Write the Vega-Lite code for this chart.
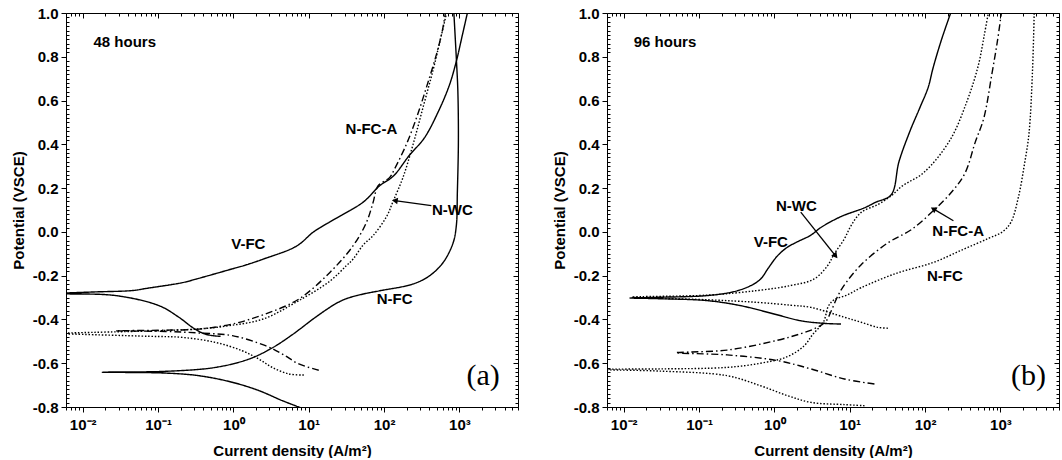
{
  "$schema": "https://vega.github.io/schema/vega-lite/v6.json",
  "background": "white",
  "padding": {"left": 11, "top": 6, "right": 0, "bottom": 0},
  "spacing": 89,
  "bounds": "flush",
  "config": {
    "view": {"stroke": null},
    "axis": {"grid": false, "domainColor": "black", "tickColor": "black", "labelColor": "black", "titleColor": "black", "labelFont": "Liberation Sans", "titleFont": "Liberation Sans", "labelFontWeight": "bold", "titleFontWeight": "bold", "labelFontSize": 15, "titleFontSize": 15, "domainWidth": 1, "tickWidth": 1, "labelOverlap": false, "labelFlush": false},
    "text": {"font": "Liberation Sans", "fontWeight": "bold", "fontSize": 15, "color": "black"}
  },
  "resolve": {"scale": {"strokeDash": "independent"}},
  "datasets": {
    "a": [
      {"s":"V-FC","k":1,"i":0.676,"E":-0.477},{"s":"V-FC","k":2,"i":0.525,"E":-0.474},{"s":"V-FC","k":3,"i":0.387,"E":-0.462},{"s":"V-FC","k":4,"i":0.285,"E":-0.436},{"s":"V-FC","k":5,"i":0.189,"E":-0.39},{"s":"V-FC","k":6,"i":0.103,"E":-0.337},{"s":"V-FC","k":7,"i":0.0274,"E":-0.291},{"s":"V-FC","k":8,"i":0.006,"E":-0.283},{"s":"V-FC","k":9,"i":0.004,"E":-0.281},{"s":"V-FC","k":10,"i":0.006,"E":-0.279},{"s":"V-FC","k":11,"i":0.0154,"E":-0.274},{"s":"V-FC","k":12,"i":0.0456,"E":-0.268},{"s":"V-FC","k":13,"i":0.0706,"E":-0.258},{"s":"V-FC","k":14,"i":0.21,"E":-0.232},{"s":"V-FC","k":15,"i":0.325,"E":-0.215},{"s":"V-FC","k":16,"i":0.966,"E":-0.169},{"s":"V-FC","k":17,"i":1.5,"E":-0.15},{"s":"V-FC","k":18,"i":2.51,"E":-0.124},{"s":"V-FC","k":19,"i":6.89,"E":-0.065},{"s":"V-FC","k":20,"i":11.6,"E":0.0},{"s":"V-FC","k":21,"i":18.9,"E":0.045},{"s":"V-FC","k":22,"i":53.3,"E":0.137},{"s":"V-FC","k":23,"i":86.9,"E":0.21},{"s":"V-FC","k":24,"i":133,"E":0.255},{"s":"V-FC","k":25,"i":217,"E":0.35},{"s":"V-FC","k":26,"i":344,"E":0.43},{"s":"V-FC","k":27,"i":526,"E":0.55},{"s":"V-FC","k":28,"i":736,"E":0.67},{"s":"V-FC","k":29,"i":912,"E":0.78},{"s":"V-FC","k":30,"i":1097,"E":0.9},{"s":"V-FC","k":31,"i":1277,"E":1.0},
      {"s":"N-FC","k":1,"i":8.2,"E":-0.806},{"s":"N-FC","k":2,"i":4.46,"E":-0.771},{"s":"N-FC","k":3,"i":2.18,"E":-0.725},{"s":"N-FC","k":4,"i":0.966,"E":-0.687},{"s":"N-FC","k":5,"i":0.348,"E":-0.657},{"s":"N-FC","k":6,"i":0.126,"E":-0.645},{"s":"N-FC","k":7,"i":0.0182,"E":-0.641},{"s":"N-FC","k":8,"i":0.126,"E":-0.637},{"s":"N-FC","k":9,"i":0.581,"E":-0.619},{"s":"N-FC","k":10,"i":1.61,"E":-0.581},{"s":"N-FC","k":11,"i":3.28,"E":-0.53},{"s":"N-FC","k":12,"i":6.04,"E":-0.47},{"s":"N-FC","k":13,"i":12.3,"E":-0.39},{"s":"N-FC","k":14,"i":22.6,"E":-0.329},{"s":"N-FC","k":15,"i":31.7,"E":-0.305},{"s":"N-FC","k":16,"i":52.8,"E":-0.284},{"s":"N-FC","k":17,"i":87.7,"E":-0.269},{"s":"N-FC","k":18,"i":243,"E":-0.238},{"s":"N-FC","k":19,"i":404,"E":-0.2},{"s":"N-FC","k":20,"i":608,"E":-0.14},{"s":"N-FC","k":21,"i":826,"E":-0.05},{"s":"N-FC","k":22,"i":912,"E":0.03},{"s":"N-FC","k":23,"i":940,"E":0.18},{"s":"N-FC","k":24,"i":970,"E":0.41},{"s":"N-FC","k":25,"i":955,"E":0.64},{"s":"N-FC","k":26,"i":912,"E":0.79},{"s":"N-FC","k":27,"i":845,"E":1.0},
      {"s":"N-WC","k":1,"i":8.61,"E":-0.654},{"s":"N-WC","k":2,"i":5.45,"E":-0.649},{"s":"N-WC","k":3,"i":3.28,"E":-0.619},{"s":"N-WC","k":4,"i":2.18,"E":-0.581},{"s":"N-WC","k":5,"i":1.31,"E":-0.543},{"s":"N-WC","k":6,"i":0.581,"E":-0.505},{"s":"N-WC","k":7,"i":0.21,"E":-0.482},{"s":"N-WC","k":8,"i":0.0757,"E":-0.477},{"s":"N-WC","k":9,"i":0.006,"E":-0.466},{"s":"N-WC","k":10,"i":0.004,"E":-0.464},{"s":"N-WC","k":11,"i":0.006,"E":-0.462},{"s":"N-WC","k":12,"i":0.325,"E":-0.444},{"s":"N-WC","k":13,"i":0.891,"E":-0.428},{"s":"N-WC","k":14,"i":2.49,"E":-0.398},{"s":"N-WC","k":15,"i":6.89,"E":-0.32},{"s":"N-WC","k":16,"i":19.1,"E":-0.225},{"s":"N-WC","k":17,"i":31.7,"E":-0.154},{"s":"N-WC","k":18,"i":38.9,"E":-0.124},{"s":"N-WC","k":19,"i":52.8,"E":-0.06},{"s":"N-WC","k":20,"i":71.6,"E":-0.017},{"s":"N-WC","k":21,"i":108,"E":0.07},{"s":"N-WC","k":22,"i":132,"E":0.14},{"s":"N-WC","k":23,"i":179,"E":0.25},{"s":"N-WC","k":24,"i":243,"E":0.4},{"s":"N-WC","k":25,"i":330,"E":0.57},{"s":"N-WC","k":26,"i":448,"E":0.74},{"s":"N-WC","k":27,"i":560,"E":0.88},{"s":"N-WC","k":28,"i":676,"E":1.0},
      {"s":"N-FC-A","k":1,"i":13.6,"E":-0.632},{"s":"N-FC-A","k":2,"i":7.39,"E":-0.603},{"s":"N-FC-A","k":3,"i":4.46,"E":-0.558},{"s":"N-FC-A","k":4,"i":2.67,"E":-0.52},{"s":"N-FC-A","k":5,"i":0.966,"E":-0.474},{"s":"N-FC-A","k":6,"i":0.348,"E":-0.462},{"s":"N-FC-A","k":7,"i":0.126,"E":-0.455},{"s":"N-FC-A","k":8,"i":0.0274,"E":-0.452},{"s":"N-FC-A","k":9,"i":0.126,"E":-0.449},{"s":"N-FC-A","k":10,"i":0.348,"E":-0.444},{"s":"N-FC-A","k":11,"i":0.966,"E":-0.421},{"s":"N-FC-A","k":12,"i":2.67,"E":-0.375},{"s":"N-FC-A","k":13,"i":7.39,"E":-0.307},{"s":"N-FC-A","k":14,"i":19.1,"E":-0.185},{"s":"N-FC-A","k":15,"i":38.9,"E":-0.063},{"s":"N-FC-A","k":16,"i":58.5,"E":0.044},{"s":"N-FC-A","k":17,"i":71.6,"E":0.135},{"s":"N-FC-A","k":18,"i":83.5,"E":0.211},{"s":"N-FC-A","k":19,"i":119,"E":0.249},{"s":"N-FC-A","k":20,"i":139,"E":0.29},{"s":"N-FC-A","k":21,"i":198,"E":0.4},{"s":"N-FC-A","k":22,"i":269,"E":0.52},{"s":"N-FC-A","k":23,"i":365,"E":0.66},{"s":"N-FC-A","k":24,"i":495,"E":0.81},{"s":"N-FC-A","k":25,"i":595,"E":0.92},{"s":"N-FC-A","k":26,"i":652,"E":1.0}
    ],
    "b": [
      {"s":"V-FC","k":1,"i":7.66,"E":-0.421},{"s":"V-FC","k":2,"i":4.6,"E":-0.418},{"s":"V-FC","k":3,"i":2.24,"E":-0.406},{"s":"V-FC","k":4,"i":0.991,"E":-0.375},{"s":"V-FC","k":5,"i":0.356,"E":-0.337},{"s":"V-FC","k":6,"i":0.128,"E":-0.314},{"s":"V-FC","k":7,"i":0.0275,"E":-0.305},{"s":"V-FC","k":8,"i":0.0121,"E":-0.302},{"s":"V-FC","k":9,"i":0.0275,"E":-0.299},{"s":"V-FC","k":10,"i":0.128,"E":-0.291},{"s":"V-FC","k":11,"i":0.29,"E":-0.273},{"s":"V-FC","k":12,"i":0.483,"E":-0.246},{"s":"V-FC","k":13,"i":0.658,"E":-0.215},{"s":"V-FC","k":14,"i":0.832,"E":-0.165},{"s":"V-FC","k":15,"i":1.096,"E":-0.11},{"s":"V-FC","k":16,"i":1.49,"E":-0.07},{"s":"V-FC","k":17,"i":2.03,"E":-0.045},{"s":"V-FC","k":18,"i":3.05,"E":-0.015},{"s":"V-FC","k":19,"i":4.14,"E":0.02},{"s":"V-FC","k":20,"i":7.66,"E":0.07},{"s":"V-FC","k":21,"i":15.7,"E":0.11},{"s":"V-FC","k":22,"i":22,"E":0.135},{"s":"V-FC","k":23,"i":35.6,"E":0.17},{"s":"V-FC","k":24,"i":45,"E":0.32},{"s":"V-FC","k":25,"i":63,"E":0.46},{"s":"V-FC","k":26,"i":86,"E":0.57},{"s":"V-FC","k":27,"i":110,"E":0.66},{"s":"V-FC","k":28,"i":128,"E":0.75},{"s":"V-FC","k":29,"i":166,"E":0.88},{"s":"V-FC","k":30,"i":219,"E":1.0},
      {"s":"N-WC","k":1,"i":32.1,"E":-0.44},{"s":"N-WC","k":2,"i":23.6,"E":-0.436},{"s":"N-WC","k":3,"i":14.2,"E":-0.413},{"s":"N-WC","k":4,"i":8.49,"E":-0.39},{"s":"N-WC","k":5,"i":3.05,"E":-0.345},{"s":"N-WC","k":6,"i":1.65,"E":-0.335},{"s":"N-WC","k":7,"i":0.593,"E":-0.322},{"s":"N-WC","k":8,"i":0.128,"E":-0.31},{"s":"N-WC","k":9,"i":0.0128,"E":-0.298},{"s":"N-WC","k":10,"i":0.128,"E":-0.289},{"s":"N-WC","k":11,"i":0.593,"E":-0.268},{"s":"N-WC","k":12,"i":1.65,"E":-0.245},{"s":"N-WC","k":13,"i":3.38,"E":-0.215},{"s":"N-WC","k":14,"i":5.09,"E":-0.154},{"s":"N-WC","k":15,"i":6.25,"E":-0.1},{"s":"N-WC","k":16,"i":8.49,"E":-0.032},{"s":"N-WC","k":17,"i":10.4,"E":0.028},{"s":"N-WC","k":18,"i":14.2,"E":0.089},{"s":"N-WC","k":19,"i":23.6,"E":0.125},{"s":"N-WC","k":20,"i":35.6,"E":0.165},{"s":"N-WC","k":21,"i":50,"E":0.21},{"s":"N-WC","k":22,"i":97,"E":0.272},{"s":"N-WC","k":23,"i":215,"E":0.42},{"s":"N-WC","k":24,"i":363,"E":0.6},{"s":"N-WC","k":25,"i":509,"E":0.76},{"s":"N-WC","k":26,"i":612,"E":0.9},{"s":"N-WC","k":27,"i":692,"E":1.0},
      {"s":"N-FC-A","k":1,"i":21.3,"E":-0.695},{"s":"N-FC-A","k":2,"i":8.49,"E":-0.672},{"s":"N-FC-A","k":3,"i":3.05,"E":-0.626},{"s":"N-FC-A","k":4,"i":1.096,"E":-0.588},{"s":"N-FC-A","k":5,"i":0.236,"E":-0.562},{"s":"N-FC-A","k":6,"i":0.0493,"E":-0.552},{"s":"N-FC-A","k":7,"i":0.236,"E":-0.54},{"s":"N-FC-A","k":8,"i":1.096,"E":-0.495},{"s":"N-FC-A","k":9,"i":2.24,"E":-0.465},{"s":"N-FC-A","k":10,"i":3.52,"E":-0.44},{"s":"N-FC-A","k":11,"i":4.79,"E":-0.41},{"s":"N-FC-A","k":12,"i":5.7,"E":-0.36},{"s":"N-FC-A","k":13,"i":6.8,"E":-0.3},{"s":"N-FC-A","k":14,"i":8.2,"E":-0.25},{"s":"N-FC-A","k":15,"i":14.2,"E":-0.15},{"s":"N-FC-A","k":16,"i":32.1,"E":-0.05},{"s":"N-FC-A","k":17,"i":65.6,"E":0.01},{"s":"N-FC-A","k":18,"i":132,"E":0.1},{"s":"N-FC-A","k":19,"i":236,"E":0.19},{"s":"N-FC-A","k":20,"i":341,"E":0.27},{"s":"N-FC-A","k":21,"i":464,"E":0.41},{"s":"N-FC-A","k":22,"i":603,"E":0.52},{"s":"N-FC-A","k":23,"i":770,"E":0.72},{"s":"N-FC-A","k":24,"i":912,"E":0.87},{"s":"N-FC-A","k":25,"i":1031,"E":1.0},
      {"s":"N-FC","k":1,"i":15.7,"E":-0.794},{"s":"N-FC","k":2,"i":8.49,"E":-0.789},{"s":"N-FC","k":3,"i":3.05,"E":-0.779},{"s":"N-FC","k":4,"i":1.49,"E":-0.748},{"s":"N-FC","k":5,"i":0.656,"E":-0.703},{"s":"N-FC","k":6,"i":0.236,"E":-0.657},{"s":"N-FC","k":7,"i":0.0305,"E":-0.636},{"s":"N-FC","k":8,"i":0.006,"E":-0.63},{"s":"N-FC","k":9,"i":0.004,"E":-0.628},{"s":"N-FC","k":10,"i":0.006,"E":-0.627},{"s":"N-FC","k":11,"i":0.0305,"E":-0.626},{"s":"N-FC","k":12,"i":0.236,"E":-0.619},{"s":"N-FC","k":13,"i":0.656,"E":-0.6},{"s":"N-FC","k":14,"i":1.49,"E":-0.57},{"s":"N-FC","k":15,"i":2.49,"E":-0.52},{"s":"N-FC","k":16,"i":3.21,"E":-0.47},{"s":"N-FC","k":17,"i":4.5,"E":-0.41},{"s":"N-FC","k":18,"i":5.2,"E":-0.34},{"s":"N-FC","k":19,"i":6.2,"E":-0.31},{"s":"N-FC","k":20,"i":9,"E":-0.29},{"s":"N-FC","k":21,"i":14.2,"E":-0.255},{"s":"N-FC","k":22,"i":41,"E":-0.19},{"s":"N-FC","k":23,"i":128,"E":-0.14},{"s":"N-FC","k":24,"i":321,"E":-0.08},{"s":"N-FC","k":25,"i":692,"E":-0.03},{"s":"N-FC","k":26,"i":1064,"E":0.0},{"s":"N-FC","k":27,"i":1380,"E":0.044},{"s":"N-FC","k":28,"i":1738,"E":0.16},{"s":"N-FC","k":29,"i":2089,"E":0.31},{"s":"N-FC","k":30,"i":2399,"E":0.45},{"s":"N-FC","k":31,"i":2672,"E":0.74},{"s":"N-FC","k":32,"i":2812,"E":1.0}
    ],
    "labA": [{"t":"V-FC","i":1.58,"E":-0.055},{"t":"N-FC","i":138,"E":-0.307},{"t":"N-FC-A","i":68,"E":0.47},{"t":"N-WC","i":807,"E":0.1}],
    "labB": [{"t":"N-WC","i":1.96,"E":0.12},{"t":"V-FC","i":0.898,"E":-0.048},{"t":"N-FC-A","i":275,"E":0.005},{"t":"N-FC","i":183,"E":-0.2}],
    "hours": [{"p":"a","t":"48 hours","i":0.0139,"E":0.866},{"p":"b","t":"96 hours","i":0.0136,"E":0.866},{"p":"a","t":"(a)","i":2061,"E":-0.657},{"p":"b","t":"(b)","i":2361,"E":-0.657}],
    "arrows": [{"p":"a","n":"wc","i":425,"E":0.12,"i2":139,"E2":0.143},{"p":"b","n":"wc","i":2.24,"E":0.09,"i2":6.5,"E2":-0.11},{"p":"b","n":"fca","i":238,"E":0.051,"i2":129,"E2":0.105}]
  },
  "hconcat": [
    {
      "width": 452, "height": 394,
      "resolve": {"axis": {"x": "independent", "y": "independent"}},
      "layer": [
        {
          "data": {"name": "a"},
          "mark": {"type": "line", "clip": true, "color": "black", "strokeWidth": 1.4, "interpolate": "catmull-rom"},
          "encoding": {
            "x": {"field": "i", "type": "quantitative", "scale": {"type": "log", "domain": [0.006, 6000], "nice": false},
              "axis": {"orient": "bottom", "title": "Current density (A/m²)", "values": [0.01,0.1,1,10,100,1000],
                "labelExpr": "['10⁻²','10⁻¹','10⁰','10¹','10²','10³'][round(log(datum.value)/LN10)+2]",
                "tickSize": 5, "labelPadding": 5, "titlePadding": 11, "labelFontSize": 15, "labelFontWeight": "bold", "titleFontSize": 15}},
            "y": {"field": "E", "type": "quantitative", "scale": {"domain": [-0.8, 1.0], "nice": false, "zero": false},
              "axis": {"orient": "left", "title": "Potential (VSCE)", "values": [-0.8,-0.6,-0.4,-0.2,0,0.2,0.4,0.6,0.8,1],
                "labelExpr": "(datum.value < -0.001 ? '-' : '') + format(abs(datum.value), '.1f')",
                "tickSize": 5, "labelPadding": 3, "titlePadding": 6, "labelFontSize": 15, "labelFontWeight": "bold", "titleFontSize": 15}},
            "order": {"field": "k", "type": "quantitative"},
            "strokeDash": {"field": "s", "type": "nominal", "legend": null, "scale": {"domain": ["V-FC","N-FC","N-WC","N-FC-A"], "range": [[1,0],[1,0],[1.5,1.8],[7,3,1.5,3]]}}
          }
        },
        {
          "data": {"name": "labA"},
          "mark": {"type": "text", "align": "center", "baseline": "middle"},
          "encoding": {
            "x": {"field": "i", "type": "quantitative", "scale": {"type": "log", "domain": [0.006, 6000], "nice": false},
              "axis": {"orient": "top", "title": null, "labels": false, "values": [0.01,0.1,1,10,100,1000], "tickSize": -5}},
            "y": {"field": "E", "type": "quantitative", "scale": {"domain": [-0.8, 1.0], "nice": false, "zero": false},
              "axis": {"orient": "right", "title": null, "labels": false, "values": [-0.8,-0.6,-0.4,-0.2,0,0.2,0.4,0.6,0.8,1], "tickSize": -5}},
            "text": {"field": "t"}
          }
        },
        {
          "data": {"name": "hours"},
          "transform": [{"filter": "datum.p == 'a' && datum.t != '(a)'"}],
          "mark": {"type": "text", "align": "left", "baseline": "middle"},
          "encoding": {
            "x": {"field": "i", "type": "quantitative", "scale": {"type": "log", "domain": [0.006, 6000], "nice": false},
              "axis": {"orient": "bottom", "title": null, "labels": false, "domain": false, "tickSize": 3, "values": [0.006,0.007,0.008,0.009,0.02,0.03,0.04,0.05,0.06,0.07,0.08,0.09,0.2,0.3,0.4,0.5,0.6,0.7,0.8,0.9,2,3,4,5,6,7,8,9,20,30,40,50,60,70,80,90,200,300,400,500,600,700,800,900,2000,3000,4000,5000,6000]}},
            "y": {"field": "E", "type": "quantitative", "scale": {"domain": [-0.8, 1.0], "nice": false, "zero": false},
              "axis": {"orient": "left", "title": null, "labels": false, "domain": false, "tickSize": -3, "values": [-0.78,-0.76,-0.74,-0.72,-0.7,-0.68,-0.66,-0.64,-0.62,-0.58,-0.56,-0.54,-0.52,-0.5,-0.48,-0.46,-0.44,-0.42,-0.38,-0.36,-0.34,-0.32,-0.3,-0.28,-0.26,-0.24,-0.22,-0.18,-0.16,-0.14,-0.12,-0.1,-0.08,-0.06,-0.04,-0.02,0.02,0.04,0.06,0.08,0.1,0.12,0.14,0.16,0.18,0.22,0.24,0.26,0.28,0.3,0.32,0.34,0.36,0.38,0.42,0.44,0.46,0.48,0.5,0.52,0.54,0.56,0.58,0.62,0.64,0.66,0.68,0.7,0.72,0.74,0.76,0.78,0.82,0.84,0.86,0.88,0.9,0.92,0.94,0.96,0.98]}},
            "text": {"field": "t"}
          }
        },
        {
          "data": {"name": "hours"},
          "transform": [{"filter": "datum.t == '(a)'"}],
          "mark": {"type": "text", "align": "center", "baseline": "middle", "font": "Liberation Serif", "fontWeight": "normal", "fontSize": 30},
          "encoding": {
            "x": {"field": "i", "type": "quantitative", "scale": {"type": "log", "domain": [0.006, 6000], "nice": false},
              "axis": {"orient": "top", "title": null, "labels": false, "domain": false, "tickSize": -3, "values": [0.006,0.007,0.008,0.009,0.02,0.03,0.04,0.05,0.06,0.07,0.08,0.09,0.2,0.3,0.4,0.5,0.6,0.7,0.8,0.9,2,3,4,5,6,7,8,9,20,30,40,50,60,70,80,90,200,300,400,500,600,700,800,900,2000,3000,4000,5000,6000]}},
            "y": {"field": "E", "type": "quantitative", "scale": {"domain": [-0.8, 1.0], "nice": false, "zero": false},
              "axis": {"orient": "right", "title": null, "labels": false, "domain": false, "tickSize": -3, "values": [-0.78,-0.76,-0.74,-0.72,-0.7,-0.68,-0.66,-0.64,-0.62,-0.58,-0.56,-0.54,-0.52,-0.5,-0.48,-0.46,-0.44,-0.42,-0.38,-0.36,-0.34,-0.32,-0.3,-0.28,-0.26,-0.24,-0.22,-0.18,-0.16,-0.14,-0.12,-0.1,-0.08,-0.06,-0.04,-0.02,0.02,0.04,0.06,0.08,0.1,0.12,0.14,0.16,0.18,0.22,0.24,0.26,0.28,0.3,0.32,0.34,0.36,0.38,0.42,0.44,0.46,0.48,0.5,0.52,0.54,0.56,0.58,0.62,0.64,0.66,0.68,0.7,0.72,0.74,0.76,0.78,0.82,0.84,0.86,0.88,0.9,0.92,0.94,0.96,0.98]}},
            "text": {"field": "t"}
          }
        },
        {
          "data": {"name": "arrows"},
          "transform": [{"filter": "datum.p == 'a'"}],
          "mark": {"type": "rule", "color": "black", "strokeWidth": 1.3},
          "encoding": {
            "x": {"field": "i", "type": "quantitative", "scale": {"type": "log", "domain": [0.006, 6000], "nice": false}, "axis": null},
            "y": {"field": "E", "type": "quantitative", "scale": {"domain": [-0.8, 1.0], "nice": false, "zero": false}, "axis": null},
            "x2": {"field": "i2"},
            "y2": {"field": "E2"}
          }
        },
        {
          "data": {"name": "arrows"},
          "transform": [{"filter": "datum.p == 'a'"}],
          "mark": {"type": "point", "shape": "triangle-up", "filled": true, "color": "black", "size": 45, "angle": 278, "opacity": 1},
          "encoding": {
            "x": {"field": "i2", "type": "quantitative", "scale": {"type": "log", "domain": [0.006, 6000], "nice": false}, "axis": null},
            "y": {"field": "E2", "type": "quantitative", "scale": {"domain": [-0.8, 1.0], "nice": false, "zero": false}, "axis": null}
          }
        }
      ]
    },
    {
      "width": 452, "height": 394,
      "resolve": {"axis": {"x": "independent", "y": "independent"}},
      "layer": [
        {
          "data": {"name": "b"},
          "mark": {"type": "line", "clip": true, "color": "black", "strokeWidth": 1.4, "interpolate": "catmull-rom"},
          "encoding": {
            "x": {"field": "i", "type": "quantitative", "scale": {"type": "log", "domain": [0.006, 6000], "nice": false},
              "axis": {"orient": "bottom", "title": "Current density (A/m²)", "values": [0.01,0.1,1,10,100,1000],
                "labelExpr": "['10⁻²','10⁻¹','10⁰','10¹','10²','10³'][round(log(datum.value)/LN10)+2]",
                "tickSize": 5, "labelPadding": 5, "titlePadding": 11, "labelFontSize": 15, "labelFontWeight": "bold", "titleFontSize": 15}},
            "y": {"field": "E", "type": "quantitative", "scale": {"domain": [-0.8, 1.0], "nice": false, "zero": false},
              "axis": {"orient": "left", "title": "Potential (VSCE)", "values": [-0.8,-0.6,-0.4,-0.2,0,0.2,0.4,0.6,0.8,1],
                "labelExpr": "(datum.value < -0.001 ? '-' : '') + format(abs(datum.value), '.1f')",
                "tickSize": 5, "labelPadding": 3, "titlePadding": 6, "labelFontSize": 15, "labelFontWeight": "bold", "titleFontSize": 15}},
            "order": {"field": "k", "type": "quantitative"},
            "strokeDash": {"field": "s", "type": "nominal", "legend": null, "scale": {"domain": ["V-FC","N-FC","N-WC","N-FC-A"], "range": [[1,0],[1.5,1.8],[1.5,1.8],[7,3,1.5,3]]}}
          }
        },
        {
          "data": {"name": "labB"},
          "mark": {"type": "text", "align": "center", "baseline": "middle"},
          "encoding": {
            "x": {"field": "i", "type": "quantitative", "scale": {"type": "log", "domain": [0.006, 6000], "nice": false},
              "axis": {"orient": "top", "title": null, "labels": false, "values": [0.01,0.1,1,10,100,1000], "tickSize": -5}},
            "y": {"field": "E", "type": "quantitative", "scale": {"domain": [-0.8, 1.0], "nice": false, "zero": false},
              "axis": {"orient": "right", "title": null, "labels": false, "values": [-0.8,-0.6,-0.4,-0.2,0,0.2,0.4,0.6,0.8,1], "tickSize": -5}},
            "text": {"field": "t"}
          }
        },
        {
          "data": {"name": "hours"},
          "transform": [{"filter": "datum.p == 'b' && datum.t != '(b)'"}],
          "mark": {"type": "text", "align": "left", "baseline": "middle"},
          "encoding": {
            "x": {"field": "i", "type": "quantitative", "scale": {"type": "log", "domain": [0.006, 6000], "nice": false},
              "axis": {"orient": "bottom", "title": null, "labels": false, "domain": false, "tickSize": 3, "values": [0.006,0.007,0.008,0.009,0.02,0.03,0.04,0.05,0.06,0.07,0.08,0.09,0.2,0.3,0.4,0.5,0.6,0.7,0.8,0.9,2,3,4,5,6,7,8,9,20,30,40,50,60,70,80,90,200,300,400,500,600,700,800,900,2000,3000,4000,5000,6000]}},
            "y": {"field": "E", "type": "quantitative", "scale": {"domain": [-0.8, 1.0], "nice": false, "zero": false},
              "axis": {"orient": "left", "title": null, "labels": false, "domain": false, "tickSize": -3, "values": [-0.78,-0.76,-0.74,-0.72,-0.7,-0.68,-0.66,-0.64,-0.62,-0.58,-0.56,-0.54,-0.52,-0.5,-0.48,-0.46,-0.44,-0.42,-0.38,-0.36,-0.34,-0.32,-0.3,-0.28,-0.26,-0.24,-0.22,-0.18,-0.16,-0.14,-0.12,-0.1,-0.08,-0.06,-0.04,-0.02,0.02,0.04,0.06,0.08,0.1,0.12,0.14,0.16,0.18,0.22,0.24,0.26,0.28,0.3,0.32,0.34,0.36,0.38,0.42,0.44,0.46,0.48,0.5,0.52,0.54,0.56,0.58,0.62,0.64,0.66,0.68,0.7,0.72,0.74,0.76,0.78,0.82,0.84,0.86,0.88,0.9,0.92,0.94,0.96,0.98]}},
            "text": {"field": "t"}
          }
        },
        {
          "data": {"name": "hours"},
          "transform": [{"filter": "datum.t == '(b)'"}],
          "mark": {"type": "text", "align": "center", "baseline": "middle", "font": "Liberation Serif", "fontWeight": "normal", "fontSize": 30},
          "encoding": {
            "x": {"field": "i", "type": "quantitative", "scale": {"type": "log", "domain": [0.006, 6000], "nice": false},
              "axis": {"orient": "top", "title": null, "labels": false, "domain": false, "tickSize": -3, "values": [0.006,0.007,0.008,0.009,0.02,0.03,0.04,0.05,0.06,0.07,0.08,0.09,0.2,0.3,0.4,0.5,0.6,0.7,0.8,0.9,2,3,4,5,6,7,8,9,20,30,40,50,60,70,80,90,200,300,400,500,600,700,800,900,2000,3000,4000,5000,6000]}},
            "y": {"field": "E", "type": "quantitative", "scale": {"domain": [-0.8, 1.0], "nice": false, "zero": false},
              "axis": {"orient": "right", "title": null, "labels": false, "domain": false, "tickSize": -3, "values": [-0.78,-0.76,-0.74,-0.72,-0.7,-0.68,-0.66,-0.64,-0.62,-0.58,-0.56,-0.54,-0.52,-0.5,-0.48,-0.46,-0.44,-0.42,-0.38,-0.36,-0.34,-0.32,-0.3,-0.28,-0.26,-0.24,-0.22,-0.18,-0.16,-0.14,-0.12,-0.1,-0.08,-0.06,-0.04,-0.02,0.02,0.04,0.06,0.08,0.1,0.12,0.14,0.16,0.18,0.22,0.24,0.26,0.28,0.3,0.32,0.34,0.36,0.38,0.42,0.44,0.46,0.48,0.5,0.52,0.54,0.56,0.58,0.62,0.64,0.66,0.68,0.7,0.72,0.74,0.76,0.78,0.82,0.84,0.86,0.88,0.9,0.92,0.94,0.96,0.98]}},
            "text": {"field": "t"}
          }
        },
        {
          "data": {"name": "arrows"},
          "transform": [{"filter": "datum.p == 'b'"}],
          "mark": {"type": "rule", "color": "black", "strokeWidth": 1.3},
          "encoding": {
            "x": {"field": "i", "type": "quantitative", "scale": {"type": "log", "domain": [0.006, 6000], "nice": false}, "axis": null},
            "y": {"field": "E", "type": "quantitative", "scale": {"domain": [-0.8, 1.0], "nice": false, "zero": false}, "axis": null},
            "x2": {"field": "i2"},
            "y2": {"field": "E2"}
          }
        },
        {
          "data": {"name": "arrows"},
          "transform": [{"filter": "datum.p == 'b' && datum.n == 'wc'"}],
          "mark": {"type": "point", "shape": "triangle-up", "filled": true, "color": "black", "size": 45, "angle": 141, "opacity": 1},
          "encoding": {
            "x": {"field": "i2", "type": "quantitative", "scale": {"type": "log", "domain": [0.006, 6000], "nice": false}, "axis": null},
            "y": {"field": "E2", "type": "quantitative", "scale": {"domain": [-0.8, 1.0], "nice": false, "zero": false}, "axis": null}
          }
        },
        {
          "data": {"name": "arrows"},
          "transform": [{"filter": "datum.p == 'b' && datum.n == 'fca'"}],
          "mark": {"type": "point", "shape": "triangle-up", "filled": true, "color": "black", "size": 45, "angle": 300, "opacity": 1},
          "encoding": {
            "x": {"field": "i2", "type": "quantitative", "scale": {"type": "log", "domain": [0.006, 6000], "nice": false}, "axis": null},
            "y": {"field": "E2", "type": "quantitative", "scale": {"domain": [-0.8, 1.0], "nice": false, "zero": false}, "axis": null}
          }
        }
      ]
    }
  ]
}
